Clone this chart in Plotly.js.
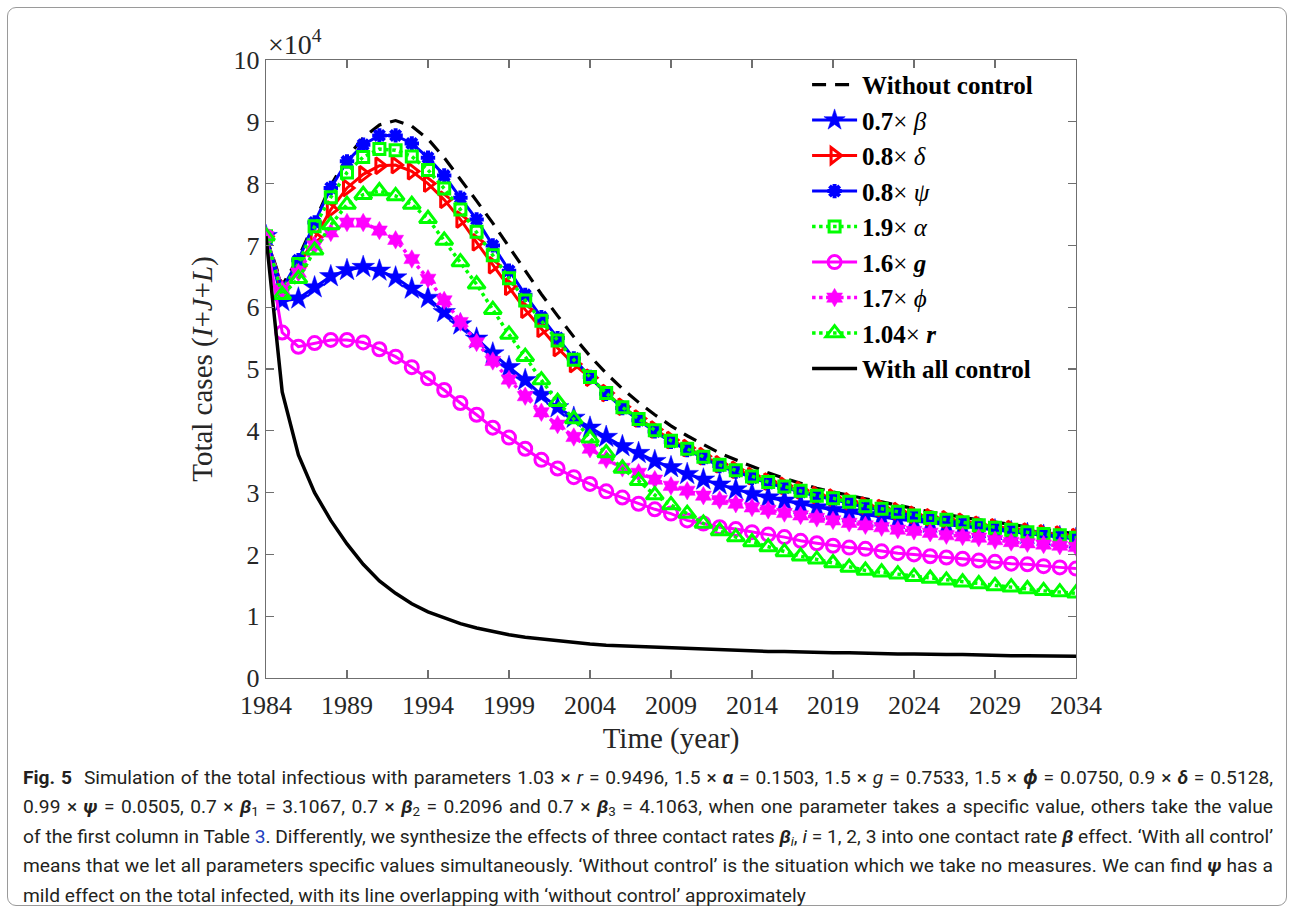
<!DOCTYPE html>
<html>
<head>
<meta charset="utf-8">
<script src="https://cdn.plot.ly/plotly-3.0.1.min.js"></script>
<style>
  html, body { margin: 0; padding: 0; background: #ffffff; }
  #wrap { position: relative; width: 1294px; height: 913px; overflow: hidden; }
  #chart { position: absolute; left: 0; top: 0; width: 1294px; height: 913px; }
  #frame { position: absolute; left: 7px; top: 7px; width: 1278px; height: 897px;
           border: 1px solid #9a9a9a; border-radius: 9px; pointer-events: none; }
  #caption { position: absolute; left: 23px; top: 763px; width: 1250px;
             font-family: Roboto, "Noto Sans", sans-serif;
             font-size: 19.2px; line-height: 29.4px; color: #231f20; }
  #caption .ln { display: block; text-align: justify; text-align-last: justify; white-space: nowrap; height: 29.4px; }
  #caption .last { text-align: left; text-align-last: left; }
  #caption sub { font-size: 70%; line-height: 0; vertical-align: -0.25em; }
  #caption a { color: #1f3fbf; text-decoration: none; }
</style>
</head>
<body>
<div id="wrap">
  <div id="chart"></div>
  <div id="frame"></div>
  <div id="caption">
    <span class="ln"><b>Fig. 5</b>&nbsp; Simulation of the total infectious with parameters 1.03 × <i>r</i> = 0.9496, 1.5 × <b><i>α</i></b> = 0.1503, 1.5 × <i>g</i> = 0.7533, 1.5 × <b><i>ϕ</i></b> = 0.0750, 0.9 × <b><i>δ</i></b> = 0.5128,</span>
    <span class="ln">0.99 × <b><i>ψ</i></b> = 0.0505, 0.7 × <b><i>β</i></b><sub>1</sub> = 3.1067, 0.7 × <b><i>β</i></b><sub>2</sub> = 0.2096 and 0.7 × <b><i>β</i></b><sub>3</sub> = 4.1063, when one parameter takes a specific value, others take the value</span>
    <span class="ln">of the first column in Table <a>3</a>. Differently, we synthesize the effects of three contact rates <b><i>β</i></b><sub><i>i</i></sub>, <i>i</i> = 1, 2, 3 into one contact rate <b><i>β</i></b> effect. ‘With all control’</span>
    <span class="ln">means that we let all parameters specific values simultaneously. ‘Without control’ is the situation which we take no measures. We can find <b><i>ψ</i></b> has a</span>
    <span class="ln last">mild effect on the total infected, with its line overlapping with ‘without control’ approximately</span>
  </div>
</div>
<script>
// Time axis (years)
const years = [1984,1985,1986,1987,1988,1989,1990,1991,1992,1993,1994,1995,1996,1997,1998,1999,2000,2001,2002,2003,2004,2005,2006,2007,2008,2009,2010,2011,2012,2013,2014,2015,2016,2017,2018,2019,2020,2021,2022,2023,2024,2025,2026,2027,2028,2029,2030,2031,2032,2033,2034];

// Total cases (I+J+L), in units of 10^4
const withoutControl = [7.15,6.35,6.80,7.38,7.97,8.42,8.74,8.95,9.02,8.93,8.72,8.42,8.08,7.72,7.36,6.97,6.58,6.21,5.86,5.52,5.21,4.93,4.68,4.46,4.26,4.08,3.92,3.78,3.64,3.53,3.42,3.32,3.23,3.15,3.07,3.01,2.95,2.90,2.85,2.79,2.74,2.69,2.64,2.60,2.56,2.52,2.48,2.44,2.40,2.37,2.33];
const beta07 = [7.15,6.10,6.14,6.32,6.50,6.60,6.65,6.59,6.48,6.30,6.15,5.92,5.72,5.49,5.25,5.03,4.82,4.58,4.38,4.21,4.05,3.90,3.75,3.64,3.51,3.41,3.30,3.21,3.13,3.05,2.98,2.92,2.87,2.81,2.76,2.72,2.68,2.64,2.61,2.57,2.54,2.51,2.48,2.45,2.42,2.39,2.36,2.33,2.30,2.28,2.25];
const delta08 = [7.15,6.32,6.66,7.13,7.58,7.93,8.15,8.29,8.30,8.20,8.00,7.74,7.42,7.05,6.68,6.33,5.96,5.65,5.34,5.08,4.86,4.61,4.39,4.20,4.02,3.85,3.72,3.59,3.46,3.37,3.27,3.18,3.11,3.04,2.96,2.92,2.86,2.79,2.75,2.70,2.64,2.60,2.57,2.53,2.48,2.44,2.41,2.37,2.34,2.32,2.28];
const psi08 = [7.15,6.30,6.76,7.37,7.93,8.36,8.63,8.78,8.78,8.65,8.42,8.13,7.77,7.42,7.00,6.59,6.20,5.84,5.50,5.17,4.87,4.60,4.37,4.17,3.99,3.82,3.69,3.56,3.43,3.34,3.24,3.15,3.08,3.01,2.94,2.89,2.83,2.76,2.72,2.67,2.62,2.58,2.55,2.50,2.46,2.42,2.39,2.35,2.32,2.29,2.26];
const alpha19 = [7.15,6.27,6.70,7.31,7.78,8.18,8.43,8.56,8.54,8.44,8.22,7.92,7.58,7.22,6.84,6.47,6.11,5.78,5.46,5.15,4.87,4.61,4.38,4.19,4.01,3.84,3.71,3.58,3.45,3.36,3.26,3.17,3.10,3.03,2.95,2.91,2.85,2.78,2.74,2.69,2.63,2.59,2.56,2.52,2.47,2.43,2.40,2.36,2.33,2.31,2.27];
const g16 = [7.15,5.59,5.36,5.42,5.47,5.47,5.43,5.32,5.20,5.03,4.85,4.66,4.45,4.26,4.05,3.89,3.71,3.53,3.39,3.25,3.14,3.02,2.92,2.82,2.73,2.66,2.55,2.50,2.44,2.41,2.36,2.32,2.28,2.22,2.18,2.14,2.11,2.09,2.05,2.02,2.00,1.97,1.95,1.93,1.90,1.88,1.85,1.84,1.81,1.79,1.77];
const phi17 = [7.15,6.28,6.56,7.00,7.21,7.37,7.37,7.24,7.09,6.78,6.46,6.11,5.76,5.43,5.13,4.83,4.56,4.30,4.10,3.90,3.71,3.54,3.40,3.32,3.21,3.11,3.03,2.95,2.88,2.82,2.76,2.72,2.67,2.63,2.59,2.55,2.51,2.47,2.44,2.40,2.38,2.35,2.31,2.29,2.27,2.23,2.20,2.18,2.16,2.14,2.12];
const r104 = [7.15,6.20,6.46,6.92,7.33,7.66,7.82,7.88,7.80,7.66,7.43,7.08,6.73,6.37,5.96,5.56,5.20,4.82,4.47,4.19,3.88,3.64,3.39,3.19,2.96,2.80,2.66,2.50,2.38,2.28,2.20,2.12,2.04,1.97,1.92,1.86,1.79,1.74,1.71,1.68,1.64,1.61,1.58,1.55,1.52,1.49,1.47,1.44,1.41,1.39,1.37];
const withAllControl = [7.15,4.63,3.61,3.00,2.55,2.17,1.84,1.57,1.37,1.20,1.07,0.97,0.88,0.81,0.75,0.70,0.66,0.63,0.60,0.57,0.55,0.53,0.52,0.50,0.49,0.48,0.47,0.46,0.45,0.45,0.44,0.43,0.43,0.42,0.42,0.41,0.41,0.40,0.40,0.39,0.39,0.38,0.38,0.38,0.37,0.37,0.36,0.36,0.36,0.35,0.35];

// Legend labels and axis ticks
const seriesNames = [
  "<b>Without control</b>",
  "<b>0.7</b>× <i>β</i>",
  "<b>0.8</b>× <i>δ</i>",
  "<b>0.8</b>× <i>ψ</i>",
  "<b>1.9</b>× <i>α</i>",
  "<b>1.6</b>× <b><i>g</i></b>",
  "<b>1.7</b>× <i>ϕ</i>",
  "<b>1.04</b>× <b><i>r</i></b>",
  "<b>With all control</b>"
];
const xTicks = [1984,1989,1994,1999,2004,2009,2014,2019,2024,2029,2034];
const yTicks = [0,1,2,3,4,5,6,7,8,9,10];

const BLUE = "#0000ff", RED = "#ff0000", GREEN = "#00ff00", MAG = "#ff00ff", BLACK = "#000000";

function tr(y, name, color, dash, width, symbol, size, mlw) {
  const t = { x: years, y: y, name: name, type: "scatter",
    line: { color: color, dash: dash, width: width } };
  if (symbol) {
    t.mode = "lines+markers";
    t.marker = { symbol: symbol, size: size, color: color,
                 line: { color: color, width: mlw } };
  } else {
    t.mode = "lines";
  }
  return t;
}

const data = [
  tr(withoutControl, seriesNames[0], BLACK, "14px,9px", 3.2, null),
  tr(beta07,  seriesNames[1], BLUE, "solid", 3, "star", 17, 0.5),
  tr(delta08, seriesNames[2], RED, "solid", 3, "triangle-right-open", 14, 3),
  tr(psi08,   seriesNames[3], BLUE, "solid", 3, "asterisk-open", 12, 4),
  tr(alpha19, seriesNames[4], GREEN, "dot", 3.5, "square-open", 11, 3),
  tr(g16,     seriesNames[5], MAG, "solid", 3, "circle-open", 13, 3),
  tr(phi17,   seriesNames[6], MAG, "dot", 3.5, "hexagram", 14, 0.5),
  tr(r104,    seriesNames[7], GREEN, "dot", 3.5, "triangle-up-open", 15, 3),
  tr(withAllControl, seriesNames[8], BLACK, "solid", 3.5, null)
];

const axisCommon = {
  showgrid: false, zeroline: false, showline: true, linecolor: "#6f6f6f", linewidth: 1.3,
  ticks: "inside", ticklen: 8, tickwidth: 1.2, tickcolor: "#6f6f6f", mirror: "ticks",
  tickfont: { family: "Liberation Serif, Times New Roman, serif", size: 26, color: "#262626" }
};

const layout = {
  width: 1294, height: 913,
  margin: { l: 266, r: 218, t: 60, b: 235 },
  paper_bgcolor: "#ffffff", plot_bgcolor: "#ffffff",
  showlegend: true,
  xaxis: Object.assign({}, axisCommon, {
    range: [1984, 2034], tickvals: xTicks, ticktext: xTicks.map(String), ticklabelstandoff: 3,
    title: { text: "Time (year)", font: { family: "Liberation Serif, serif", size: 29, color: "#262626" }, standoff: 9 }
  }),
  yaxis: Object.assign({}, axisCommon, {
    range: [0, 10], tickvals: yTicks, ticktext: yTicks.map(String),
    title: { text: "Total cases (<i>I</i>+<i>J</i>+<i>L</i>)", font: { family: "Liberation Serif, serif", size: 29, color: "#262626" }, standoff: 12 }
  }),
  legend: {
    x: 0.668, y: 0.997, xanchor: "left", yanchor: "top",
    bgcolor: "rgba(255,255,255,0)", borderwidth: 0,
    font: { family: "Liberation Serif, Times New Roman, serif", size: 25, color: "#000000" },
    itemwidth: 45, tracegroupgap: 0
  },
  annotations: [{
    xref: "paper", yref: "paper", x: 0, y: 1, xanchor: "left", yanchor: "bottom", yshift: -2,
    text: "×10<sup>4</sup>", showarrow: false,
    font: { family: "Liberation Serif, serif", size: 28, color: "#262626" }
  }]
};

Plotly.newPlot("chart", data, layout, { displayModeBar: false, staticPlot: true });
</script>
</body>
</html>
